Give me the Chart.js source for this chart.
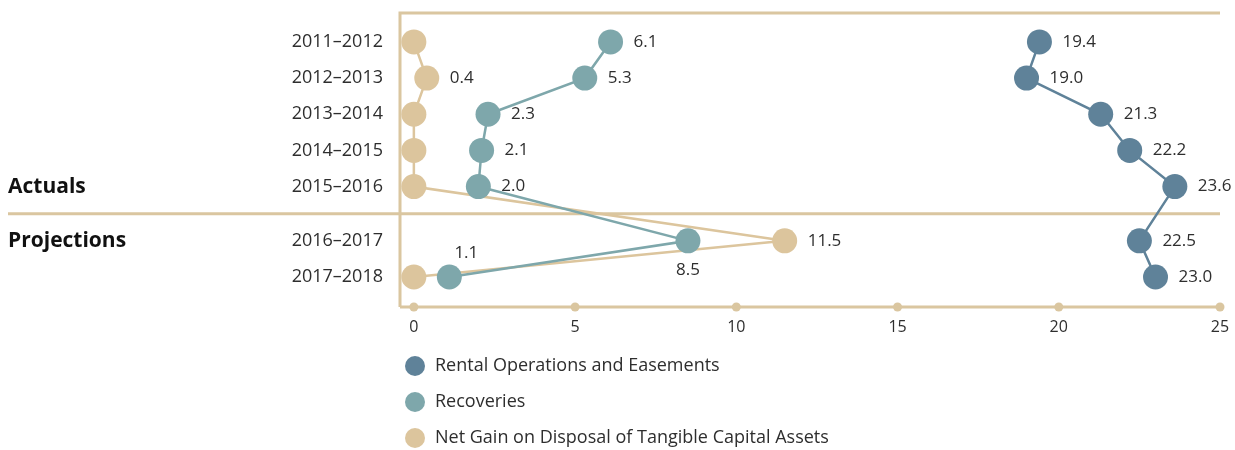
<!DOCTYPE html>
<html>
<head>
<meta charset="utf-8">
<script src="https://cdn.jsdelivr.net/npm/chart.js@4.4.0/dist/chart.umd.min.js"></script>
<style>
  html, body { margin: 0; padding: 0; background: #fff; }
  #wrap { width: 1235px; height: 450px; position: relative; }
</style>
</head>
<body>
<div id="wrap"><canvas id="chart-revenue"></canvas></div>
<script>
const CATEGORIES = ['2011–2012', '2012–2013', '2013–2014', '2014–2015', '2015–2016', '2016–2017', '2017–2018'];
const SERIES_NAMES = ['Rental Operations and Easements', 'Recoveries', 'Net Gain on Disposal of Tangible Capital Assets'];
const RENTAL = [19.4, 19.0, 21.3, 22.2, 23.6, 22.5, 23.0];
const RECOVERIES = [6.1, 5.3, 2.3, 2.1, 2.0, 8.5, 1.1];
const NET_GAIN = [0, 0.4, 0, 0, 0, 11.5, 0];
const X_TICKS = [0, 5, 10, 15, 20, 25];
const GROUPS = ['Actuals', 'Projections'];
const PROJECTION_START = 5; // first projected row

const COLORS = ['#5f8299', '#7ea7ab', '#dcc59d'];
const FRAME = '#dac6a0';
const TEXT = '#2e2e2e';
const FONT = "'Open Sans', 'Noto Sans', sans-serif";

// projections sit half a row lower than the actuals
const rowPos = (i) => i + (i >= PROJECTION_START ? 0.5 : 0);

// where the value label goes, relative to the point
const LABEL_SPOT = {
  1: { 5: 'below', 6: 'above' }
};

const framePlugin = {
  id: 'frame',
  beforeDatasetsDraw(chart) {
    const { ctx, chartArea: a, scales: { x, y } } = chart;
    ctx.save();
    ctx.strokeStyle = FRAME;
    ctx.lineWidth = 3;
    ctx.beginPath();
    ctx.moveTo(a.left, a.top); ctx.lineTo(a.right, a.top);
    ctx.moveTo(a.left, a.top - 1.5); ctx.lineTo(a.left, a.bottom);
    ctx.moveTo(a.left, a.bottom); ctx.lineTo(a.right, a.bottom);
    const sepY = y.getPixelForValue((rowPos(PROJECTION_START - 1) + rowPos(PROJECTION_START)) / 2);
    ctx.moveTo(8, sepY); ctx.lineTo(a.right, sepY);
    ctx.stroke();
    ctx.fillStyle = FRAME;
    X_TICKS.forEach((t) => {
      ctx.beginPath();
      ctx.arc(x.getPixelForValue(t), a.bottom, 4.5, 0, Math.PI * 2);
      ctx.fill();
    });
    ctx.fillStyle = '#111';
    ctx.font = `bold 21px ${FONT}`;
    ctx.textAlign = 'left';
    ctx.textBaseline = 'middle';
    ctx.fillText(GROUPS[0], 8, y.getPixelForValue(rowPos(PROJECTION_START - 1)));
    ctx.fillText(GROUPS[1], 8, y.getPixelForValue(rowPos(PROJECTION_START)));
    ctx.restore();
  }
};

const valueLabelPlugin = {
  id: 'valueLabels',
  afterDatasetsDraw(chart) {
    const { ctx } = chart;
    ctx.save();
    ctx.fillStyle = TEXT;
    ctx.font = `17px ${FONT}`;
    ctx.textBaseline = 'middle';
    chart.data.datasets.forEach((ds, di) => {
      const meta = chart.getDatasetMeta(di);
      meta.data.forEach((pt, i) => {
        const value = ds.data[i].x;
        if (!value) return;
        const text = value.toFixed(1);
        const spot = (LABEL_SPOT[di] || {})[i] || 'right';
        if (spot === 'below') {
          ctx.textAlign = 'center';
          ctx.fillText(text, pt.x, pt.y + 29);
        } else if (spot === 'above') {
          ctx.textAlign = 'center';
          ctx.fillText(text, pt.x + 17, pt.y - 24);
        } else {
          ctx.textAlign = 'left';
          ctx.fillText(text, pt.x + 23, pt.y);
        }
      });
    });
    ctx.restore();
  }
};

const legendPlugin = {
  id: 'stackedLegend',
  afterDraw(chart) {
    const { ctx } = chart;
    ctx.save();
    ctx.font = `18px ${FONT}`;
    ctx.textAlign = 'left';
    ctx.textBaseline = 'middle';
    chart.data.datasets.forEach((ds, i) => {
      const cy = 366 + i * 36;
      ctx.fillStyle = ds.backgroundColor;
      ctx.beginPath();
      ctx.arc(415, cy, 10, 0, Math.PI * 2);
      ctx.fill();
      ctx.fillStyle = TEXT;
      ctx.fillText(ds.label, 435, cy);
    });
    ctx.restore();
  }
};

function makeDataset(label, values, color) {
  return {
    label,
    data: values.map((v, i) => ({ x: v, y: rowPos(i) })),
    borderColor: color,
    backgroundColor: color,
    borderWidth: 2.5,
    pointRadius: 12.5,
    pointHoverRadius: 12.5,
    pointBorderWidth: 0,
    pointBackgroundColor: color,
    clip: false
  };
}

new Chart(document.getElementById('chart-revenue'), {
  type: 'line',
  data: {
    datasets: [
      makeDataset(SERIES_NAMES[0], RENTAL, COLORS[0]),
      makeDataset(SERIES_NAMES[1], RECOVERIES, COLORS[1]),
      makeDataset(SERIES_NAMES[2], NET_GAIN, COLORS[2])
    ]
  },
  options: {
    responsive: true,
    maintainAspectRatio: false,
    animation: false,
    layout: { padding: { top: 13, right: 15, left: 0, bottom: 0 } },
    plugins: {
      legend: { display: false },
      tooltip: {
        callbacks: {
          title: (items) => CATEGORIES[items[0].dataIndex],
          label: (c) => ` ${c.dataset.label}: ${c.parsed.x.toFixed(1)}`
        }
      }
    },
    scales: {
      x: {
        type: 'linear',
        min: -0.43,
        max: 25,
        afterBuildTicks: (s) => { s.ticks = X_TICKS.map((v) => ({ value: v })); },
        afterFit: (s) => {
          s.height = 143;
          s.paddingLeft = 0;
          s.paddingRight = 0;
        },
        grid: { display: false, drawTicks: false },
        border: { display: false },
        ticks: { padding: 11, color: TEXT, font: { family: FONT, size: 16 } }
      },
      y: {
        type: 'linear',
        reverse: true,
        min: -0.8,
        max: 7.33,
        afterBuildTicks: (s) => { s.ticks = CATEGORIES.map((c, i) => ({ value: rowPos(i) })); },
        afterFit: (s) => {
          s.width = 400;
          s.paddingTop = 0;
          s.paddingBottom = 0;
        },
        grid: { display: false, drawTicks: false },
        border: { display: false },
        ticks: {
          padding: 17,
          color: TEXT,
          font: { family: FONT, size: 18 },
          callback: (value, index) => CATEGORIES[index]
        }
      }
    }
  },
  plugins: [framePlugin, valueLabelPlugin, legendPlugin]
});
</script>
</body>
</html>
